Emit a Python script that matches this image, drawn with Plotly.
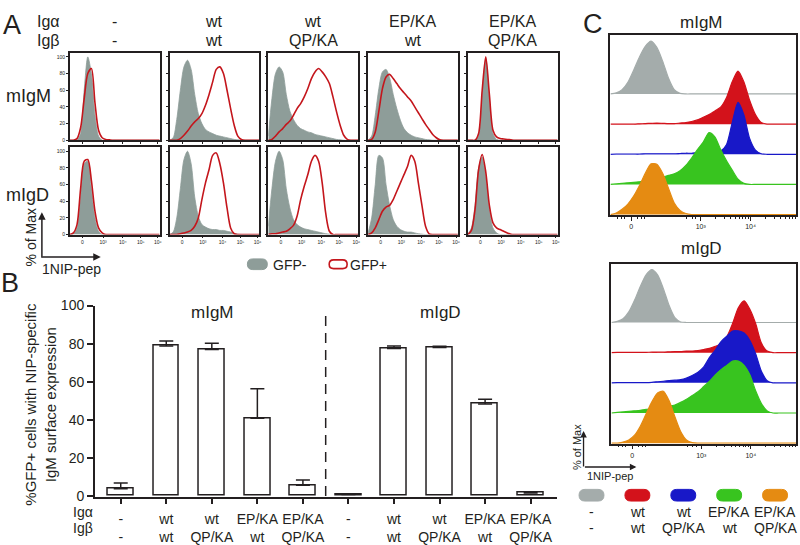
import math
import plotly.graph_objects as go

# ---------------- data ----------------
IG_ALPHA = ["-", "wt", "wt", "EP/KA", "EP/KA"]
IG_BETA = ["-", "wt", "QP/KA", "wt", "QP/KA"]
ROW_NAMES = ["mIgM", "mIgD"]

# Panel A: display channel (0-100) of the biexponential 1NIP-pep axis
XA = [0, 4, 8, 12, 16, 20, 24, 28, 32, 36, 40, 44, 48, 52, 56, 60, 64, 68, 72, 76, 80, 84, 88, 92, 96, 100]
A_TICKVALS = [14, 37, 59, 79, 98]
A_TICKTEXT = ["0", "10³", "10⁴", "10⁵", "10⁶"]
A_YTICKS = [0, 20, 40, 60, 80, 100]

IGM_GFPNEG = [
    [0, 0, 0, 8, 60, 100, 80, 30, 5, 0, 0, 0, 0, 0, 0, 0, 0, 0, 0, 0, 0, 0, 0, 0, 0, 0],
    [0, 3, 25, 60, 88, 96, 85, 55, 32, 20, 13, 10, 8, 6, 5, 4, 3, 2, 1, 0.5, 0, 0, 0, 0, 0, 0],
    [5, 50, 80, 88, 82, 55, 35, 25, 18, 14, 12, 10, 9, 7, 6, 5, 4, 3, 2, 1, 0.5, 0, 0, 0, 0, 0],
    [0, 5, 30, 62, 82, 85, 75, 55, 38, 24, 14, 9, 6, 4, 3, 2, 1, 0.5, 0, 0, 0, 0, 0, 0, 0, 0],
    [0, 0, 0, 5, 55, 98, 50, 8, 1, 0, 0, 0, 0, 0, 0, 0, 0, 0, 0, 0, 0, 0, 0, 0, 0, 0],
]
IGM_GFPPOS = [
    [0, 0, 2, 15, 50, 80, 86, 45, 12, 3, 1, 0.5, 0, 0, 0, 0, 0, 0, 0, 0, 0, 0, 0, 0, 0, 0],
    [0, 0, 0, 2, 6, 11, 17, 22, 26, 32, 42, 55, 70, 85, 88, 80, 60, 38, 18, 5, 1, 0, 0, 0, 0, 0],
    [0, 1, 5, 10, 14, 19, 23, 30, 38, 44, 52, 62, 74, 82, 86, 82, 76, 68, 52, 34, 18, 6, 1, 0, 0, 0],
    [0, 1, 10, 35, 62, 76, 79, 74, 68, 62, 57, 52, 47, 40, 33, 26, 19, 13, 7, 3, 0.5, 0, 0, 0, 0, 0],
    [0, 0, 0, 8, 60, 100, 55, 12, 4, 2, 1.5, 1, 0.5, 0, 0, 0, 0, 0, 0, 0, 0, 0, 0, 0, 0, 0],
]
IGD_GFPNEG = [
    [0, 1, 8, 45, 85, 88, 55, 20, 4, 0, 0, 0, 0, 0, 0, 0, 0, 0, 0, 0, 0, 0, 0, 0, 0, 0],
    [0, 3, 20, 55, 90, 100, 85, 45, 22, 12, 9, 7, 6, 6, 5, 5, 4, 3, 1, 0.5, 0, 0, 0, 0, 0, 0],
    [10, 55, 88, 100, 90, 55, 32, 18, 12, 9, 7, 6, 5, 4, 3, 2, 1, 0.5, 0, 0, 0, 0, 0, 0, 0, 0],
    [2, 20, 60, 95, 92, 60, 35, 18, 10, 6, 4, 3, 3, 2, 1, 0.5, 0, 0, 0, 0, 0, 0, 0, 0, 0, 0],
    [0, 8, 35, 80, 93, 70, 30, 8, 2, 0, 0, 0, 0, 0, 0, 0, 0, 0, 0, 0, 0, 0, 0, 0, 0, 0],
]
IGD_GFPPOS = [
    [0, 2, 12, 55, 88, 90, 65, 28, 8, 2, 0, 0, 0, 0, 0, 0, 0, 0, 0, 0, 0, 0, 0, 0, 0, 0],
    [0, 0, 0, 1, 2, 3, 5, 10, 20, 42, 62, 78, 95, 98, 85, 62, 32, 8, 1, 0, 0, 0, 0, 0, 0, 0],
    [0, 1, 1, 2, 3, 4, 7, 11, 22, 42, 58, 72, 88, 95, 88, 62, 25, 4, 0, 0, 0, 0, 0, 0, 0, 0],
    [0, 2, 8, 18, 28, 33, 35, 42, 52, 62, 72, 82, 95, 88, 62, 35, 10, 1, 0, 0, 0, 0, 0, 0, 0, 0],
    [0, 5, 30, 78, 96, 75, 35, 14, 8, 6, 4, 2, 0.5, 0, 0, 0, 0, 0, 0, 0, 0, 0, 0, 0, 0, 0],
]

# Panel B
B_ALPHA = ["-", "wt", "wt", "EP/KA", "EP/KA", "-", "wt", "wt", "EP/KA", "EP/KA"]
B_BETA = ["-", "wt", "QP/KA", "wt", "QP/KA", "-", "wt", "QP/KA", "wt", "QP/KA"]
B_VALUES = [3.8, 78.8, 77.0, 40.8, 5.6, 0.8, 77.5, 78.0, 48.3, 1.6]
B_ERR = [3.0, 2.6, 3.2, 15.5, 2.8, 0.4, 1.3, 0.7, 2.5, 0.6]
B_GROUPS = ["mIgM", "mIgD"]
B_YTICKS = [0, 20, 40, 60, 80, 100]
B_TITLE = "%GFP+ cells with NIP-specific<br>IgM surface expression"

# Panel C: display channel (0-1024) of the 1NIP-pep axis
XC = [0, 32, 64, 96, 128, 160, 192, 224, 256, 288, 320, 352, 384, 416, 448, 480, 512,
      544, 576, 608, 640, 672, 704, 736, 768, 800, 832, 864, 896, 928, 960, 992, 1024]
C_TICKVALS = [115, 498, 773]
C_TICKTEXT = ["0", "10³", "10⁴"]
C_TITLES = ["mIgM", "mIgD"]
C_IGM = [
    [0, 2, 8, 22, 45, 70, 90, 100, 88, 62, 30, 8, 1, 0, 0, 0, 0, 0, 0, 0, 0, 0, 0, 0, 0, 0, 0, 0, 0, 0, 0, 0, 0],
    [0, 0, 0, 0, 0, 0.5, 1, 1.5, 2, 1.5, 1, 1, 2, 3, 5, 8, 13, 18, 25, 32, 50, 80, 100, 80, 45, 18, 3, 0, 0, 0, 0, 0, 0],
    [0, 0.5, 0.5, 0.5, 0.5, 0.5, 1, 1, 1, 1, 1, 1, 1.5, 2, 2, 3, 3, 4, 4, 6, 18, 60, 98, 75, 30, 8, 1, 0, 0, 0, 0, 0, 0],
    [0, 1, 2, 3, 4, 5, 6, 8, 11, 14, 17, 20, 26, 36, 50, 66, 80, 98, 90, 66, 45, 27, 10, 2, 0, 0, 0, 0, 0, 0, 0, 0, 0],
    [0, 3, 10, 20, 35, 55, 78, 96, 95, 78, 50, 22, 8, 2, 0, 0, 0, 0, 0, 0, 0, 0, 0, 0, 0, 0, 0, 0, 0, 0, 0, 0, 0],
]
C_IGD = [
    [0, 2, 7, 20, 42, 68, 90, 100, 90, 64, 32, 9, 1, 0, 0, 0, 0, 0, 0, 0, 0, 0, 0, 0, 0, 0, 0, 0, 0, 0, 0, 0, 0],
    [0, 0.5, 0.5, 0.5, 0.5, 0.5, 0.5, 1, 1, 1, 1.5, 2, 2, 3, 3, 4, 6, 8, 12, 17, 30, 55, 85, 98, 82, 55, 18, 3, 0, 0, 0, 0, 0],
    [0, 0.5, 0.5, 0.5, 0.5, 0.5, 0.5, 1, 2, 3, 4, 5, 6, 9, 14, 20, 30, 48, 62, 78, 88, 98, 98, 94, 80, 55, 22, 4, 0, 0, 0, 0, 0],
    [0, 1, 2, 3, 4, 5, 7, 8, 10, 12, 13, 15, 20, 26, 33, 40, 50, 60, 72, 82, 90, 98, 98, 90, 72, 42, 18, 4, 0, 0, 0, 0, 0],
    [0, 0, 2, 6, 15, 32, 55, 78, 95, 98, 80, 50, 22, 6, 1, 0, 0, 0, 0, 0, 0, 0, 0, 0, 0, 0, 0, 0, 0, 0, 0, 0, 0],
]

# ---------------- style ----------------
W, H = 800, 545
FONT = "Liberation Sans, Arial, Helvetica, sans-serif"
INK = "#231f20"
GRAY_A = "#8e9d99"
RED_A = "#c4161c"
C_COLORS = ["#a4acab", "#d3121b", "#1818c8", "#38c41f", "#e58b12"]
C_OFFSETS = [229, 172, 115, 58, 1]


def px(x):
    return x / W


def py(y):
    return 1 - y / H


def axname(k, letter):
    return f"{letter}axis" if k == 1 else f"{letter}axis{k}"


def ref(k, letter):
    return letter if k == 1 else f"{letter}{k}"


fig = go.Figure()
axes = {}
annotations = []
shapes = []


def ann(text, x, y, size, xanchor="center", angle=0, color=INK):
    annotations.append(dict(text=text, x=px(x), y=py(y), xref="paper", yref="paper",
                            showarrow=False, xanchor=xanchor, yanchor="middle",
                            textangle=angle, font=dict(family=FONT, size=size, color=color)))


def pill(x0, x1, y0, y1, fill, line_color, lw):
    r = (y1 - y0) / 2
    ym = (y0 + y1) / 2
    pts = lambda x, y: f"{px(x):.5f},{py(y):.5f}"
    path = (f"M {pts(x0 + r, y0)} L {pts(x1 - r, y0)} Q {pts(x1, y0)} {pts(x1, ym)} "
            f"Q {pts(x1, y1)} {pts(x1 - r, y1)} L {pts(x0 + r, y1)} Q {pts(x0, y1)} {pts(x0, ym)} "
            f"Q {pts(x0, y0)} {pts(x0 + r, y0)} Z")
    shapes.append(dict(type="path", path=path, xref="paper", yref="paper",
                       fillcolor=fill, line=dict(color=line_color, width=lw)))


frame = dict(showline=True, mirror=True, linecolor=INK, linewidth=1.5, showgrid=False,
             zeroline=False, fixedrange=True)

# ---------------- Panel A ----------------
A_COLS = [(70, 160), (170, 260), (269, 359), (369, 459), (469, 559)]
A_ROWS = [(46, 136), (143, 233)]
A_NEG = [IGM_GFPNEG, IGD_GFPNEG]
A_POS = [IGM_GFPPOS, IGD_GFPPOS]

k = 0
for r in range(2):
    for c in range(5):
        k += 1
        xr, yr = ref(k, "x"), ref(k, "y")
        fig.add_trace(go.Scatter(x=XA, y=A_NEG[r][c], xaxis=xr, yaxis=yr, mode="lines",
                                 fill="tozeroy", fillcolor=GRAY_A,
                                 line=dict(color=GRAY_A, width=0.8, shape="spline", smoothing=0.8),
                                 hoverinfo="skip", showlegend=False))
        fig.add_trace(go.Scatter(x=XA, y=A_POS[r][c], xaxis=xr, yaxis=yr, mode="lines",
                                 line=dict(color=RED_A, width=1.6, shape="spline", smoothing=0.8),
                                 hoverinfo="skip", showlegend=False))
        axes[axname(k, "x")] = dict(frame, domain=[px(A_COLS[c][0]), px(A_COLS[c][1])], anchor=yr,
                                    range=[0, 100], tickvals=A_TICKVALS, ticktext=A_TICKTEXT,
                                    showticklabels=(r == 1), ticks="outside", ticklen=2, tickwidth=0.8,
                                    tickcolor=INK, tickfont=dict(family=FONT, size=5, color=INK))
        axes[axname(k, "y")] = dict(frame, domain=[py(A_ROWS[r][1]), py(A_ROWS[r][0])], anchor=xr,
                                    range=[0, 105], tickvals=A_YTICKS, showticklabels=(c == 0),
                                    ticks="outside", ticklen=2, tickwidth=0.8, tickcolor=INK,
                                    tickfont=dict(family=FONT, size=5, color=INK))

ann("A", 12, 17, 27)
ann("Igα", 49, 14, 16)
ann("Igβ", 49, 33, 16)
for c in range(5):
    cx = (A_COLS[c][0] + A_COLS[c][1]) / 2
    ann(IG_ALPHA[c], cx, 14, 16)
    ann(IG_BETA[c], cx, 33, 16)
ann(ROW_NAMES[0], 29, 90, 18)
ann(ROW_NAMES[1], 28, 192, 18)
ann("% of Max", 31, 236, 14, angle=-90)
ann("1NIP-pep", 72, 268, 14)
annotations.append(dict(x=px(42), y=py(210), xref="paper", yref="paper", ax=0, ay=47, text="",
                        showarrow=True, arrowhead=2, arrowsize=1, arrowwidth=1.5, arrowcolor=INK))
annotations.append(dict(x=px(101), y=py(256), xref="paper", yref="paper", ax=-60, ay=0, text="",
                        showarrow=True, arrowhead=2, arrowsize=1, arrowwidth=1.5, arrowcolor=INK))
pill(248, 268, 258, 269, GRAY_A, GRAY_A, 1)
ann("GFP-", 272, 264, 14, xanchor="left")
pill(330, 348, 259, 268, "white", RED_A, 1.6)
ann("GFP+", 349, 264, 14, xanchor="left")

# ---------------- Panel B ----------------
xb = list(range(len(B_VALUES)))
fig.add_trace(go.Bar(x=xb, y=B_VALUES, width=0.57, xaxis="x11", yaxis="y11",
                     marker=dict(color="white", line=dict(color=INK, width=1.5)),
                     error_y=dict(type="data", symmetric=False, array=B_ERR,
                                  arrayminus=[0] * len(B_ERR), color=INK, thickness=1.5, width=7),
                     hoverinfo="skip", showlegend=False))
axes["xaxis11"] = dict(domain=[px(95), px(558)], anchor="y11", range=[-0.57, 9.57],
                       showline=True, linecolor=INK, linewidth=1.5, showgrid=False, zeroline=False,
                       tickvals=xb, ticktext=[f"{a}<br>{b}" for a, b in zip(B_ALPHA, B_BETA)],
                       ticks="outside", ticklen=5, tickwidth=1.5, tickcolor=INK,
                       ticklabelstandoff=3,
                       tickfont=dict(family=FONT, size=14, color=INK), fixedrange=True)
axes["yaxis11"] = dict(domain=[py(503), py(306)], anchor="x11", range=[-0.6, 100],
                       showline=True, linecolor=INK, linewidth=1.5, showgrid=False, zeroline=False,
                       tickvals=B_YTICKS, ticks="outside", ticklen=6, tickwidth=1.5, tickcolor=INK,
                       tickfont=dict(family=FONT, size=14, color=INK), fixedrange=True)
shapes.append(dict(type="line", xref="x11", yref="y11", x0=4.5, x1=4.5, y0=0, y1=98,
                   line=dict(color=INK, width=1.5, dash="10px,7px")))
ann("B", 10, 283, 27)
ann(B_GROUPS[0], 213, 313, 17)
ann(B_GROUPS[1], 442, 313, 17)
ann(B_TITLE, 41, 407, 15, angle=-90)
ann("Igα", 83, 518, 14)
ann("Igβ", 83, 535, 14)

# ---------------- Panel C ----------------
C_BOXES = [((612, 798), (28, 213)), ((613, 798), (263, 448))]
C_DATA = [C_IGM, C_IGD]
minor = []
for dec in (498, 773):
    for m in range(2, 10):
        v = dec + math.log10(m) * 275
        if v < 1024:
            minor.append(v)
minor += [40, 60, 80, 150, 170, 190, 420, 450, 470]
for i in range(2):
    k = 12 + i
    xr, yr = f"x{k}", f"y{k}"
    for j in range(5):
        off = C_OFFSETS[j]
        fig.add_trace(go.Scatter(x=XC, y=[off] * len(XC), xaxis=xr, yaxis=yr, mode="lines",
                                 line=dict(width=0, color=C_COLORS[j]), hoverinfo="skip",
                                 showlegend=False))
        fig.add_trace(go.Scatter(x=XC, y=[off + v for v in C_DATA[i][j]], xaxis=xr, yaxis=yr,
                                 mode="lines", fill="tonexty", fillcolor=C_COLORS[j],
                                 line=dict(color=C_COLORS[j], width=1.2, shape="spline", smoothing=0.7),
                                 hoverinfo="skip", showlegend=False))
    (x0, x1), (y0, y1) = C_BOXES[i]
    axes[axname(k, "x")] = dict(frame, domain=[px(x0), px(x1)], anchor=yr, range=[0, 1024],
                                tickvals=C_TICKVALS, ticktext=C_TICKTEXT, ticks="outside", ticklen=4,
                                tickwidth=1, tickcolor=INK,
                                minor=dict(tickvals=minor, ticks="outside", ticklen=2, tickwidth=0.8,
                                           tickcolor=INK),
                                tickfont=dict(family=FONT, size=7, color=INK))
    axes[axname(k, "y")] = dict(frame, domain=[py(y1), py(y0)], anchor=xr, range=[0, 340],
                                showticklabels=False, ticks="")
    ann(C_TITLES[i], 703, 15 if i == 0 else 247, 17)

ann("C", 594, 16, 27)
ann("% of Max", 578, 452, 11, angle=-90)
ann("1NIP-pep", 612, 481, 11)
annotations.append(dict(x=px(585), y=py(435), xref="paper", yref="paper", ax=0, ay=37, text="",
                        showarrow=True, arrowhead=2, arrowsize=1, arrowwidth=1.3, arrowcolor=INK))
annotations.append(dict(x=px(638), y=py(472), xref="paper", yref="paper", ax=-53, ay=0, text="",
                        showarrow=True, arrowhead=2, arrowsize=1, arrowwidth=1.3, arrowcolor=INK))
C_LEG_X = [593, 639, 685, 731, 777]
for j in range(5):
    pill(C_LEG_X[j] - 12.5, C_LEG_X[j] + 12.5, 495, 507, C_COLORS[j], C_COLORS[j], 1)
    ann(IG_ALPHA[j], C_LEG_X[j], 518, 14)
    ann(IG_BETA[j], C_LEG_X[j], 535, 14)

fig.update_layout(width=W, height=H, margin=dict(l=0, r=0, t=0, b=0),
                  paper_bgcolor="white", plot_bgcolor="white", showlegend=False,
                  bargap=0, annotations=annotations, shapes=shapes,
                  font=dict(family=FONT, color=INK), **axes)
fig.write_html("out.html", config={"displayModeBar": False},
               post_script="document.body.style.margin='0px';document.body.style.padding='0px';"
                           "document.documentElement.style.overflow='hidden';")
